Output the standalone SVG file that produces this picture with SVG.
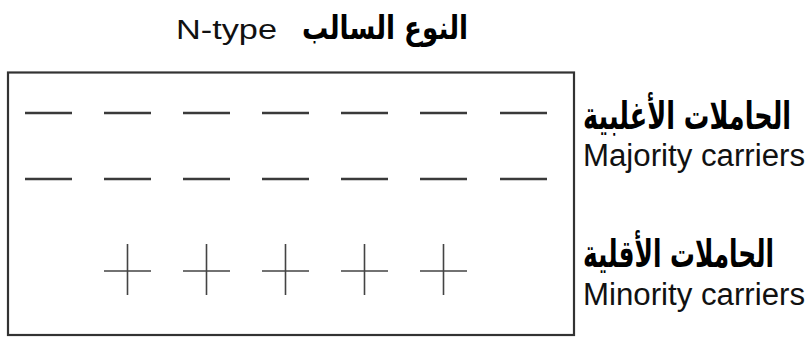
<svg xmlns="http://www.w3.org/2000/svg" width="807" height="338" viewBox="0 0 807 338">
<style>
.box{fill:#fff;stroke:#333;stroke-width:2.2}
.q{stroke:#3a3a3a;stroke-width:2.6;stroke-linecap:butt;fill:none}
.qp{stroke:#444;stroke-width:1.6;fill:none}
.en{font-family:"Liberation Sans",Arial,sans-serif;fill:#111}
.ar{font-family:"DejaVu Sans",sans-serif;font-weight:bold;fill:#000}
</style>
<rect width="807" height="338" fill="#fff"/>
<g id="title">
<text class="en" x="176" y="39" font-size="27" textLength="101" lengthAdjust="spacingAndGlyphs">N-type</text>
<text class="ar" transform="translate(302 39) scale(1 1.35)" x="0" y="0" font-size="24" textLength="166" lengthAdjust="spacingAndGlyphs">النوع السالب</text>
</g>
<g id="crystal">
<rect class="box" x="8" y="72.5" width="566" height="262.5"/>
</g>
<g id="majority-carriers">
<path class="q" d="M25 113h47M104 113h47M183 113h47M262 113h47M341 113h47M420 113h47M500 113h47"/>
<path class="q" d="M25 179h47M104 179h47M183 179h47M262 179h47M341 179h47M420 179h47M500 179h47"/>
</g>
<g id="minority-carriers">
<path class="qp" d="M104 271h47M127.5 244v51M183 271h47M206.5 244v51M262 271h47M285.5 244v51M341 271h47M364.5 244v51M420 271h47M443.5 244v51"/>
</g>
<g id="label-majority">
<text class="ar" transform="translate(583 129) scale(1 1.6)" x="0" y="0" font-size="24" textLength="208" lengthAdjust="spacingAndGlyphs">الحاملات الأغلبية</text>
<text class="en" x="583" y="166" font-size="31" textLength="222" lengthAdjust="spacingAndGlyphs">Majority carriers</text>
</g>
<g id="label-minority">
<text class="ar" transform="translate(583 267) scale(1 1.6)" x="0" y="0" font-size="24" textLength="191" lengthAdjust="spacingAndGlyphs">الحاملات الأقلية</text>
<text class="en" x="583" y="305" font-size="31" textLength="222" lengthAdjust="spacingAndGlyphs">Minority carriers</text>
</g>
</svg>
